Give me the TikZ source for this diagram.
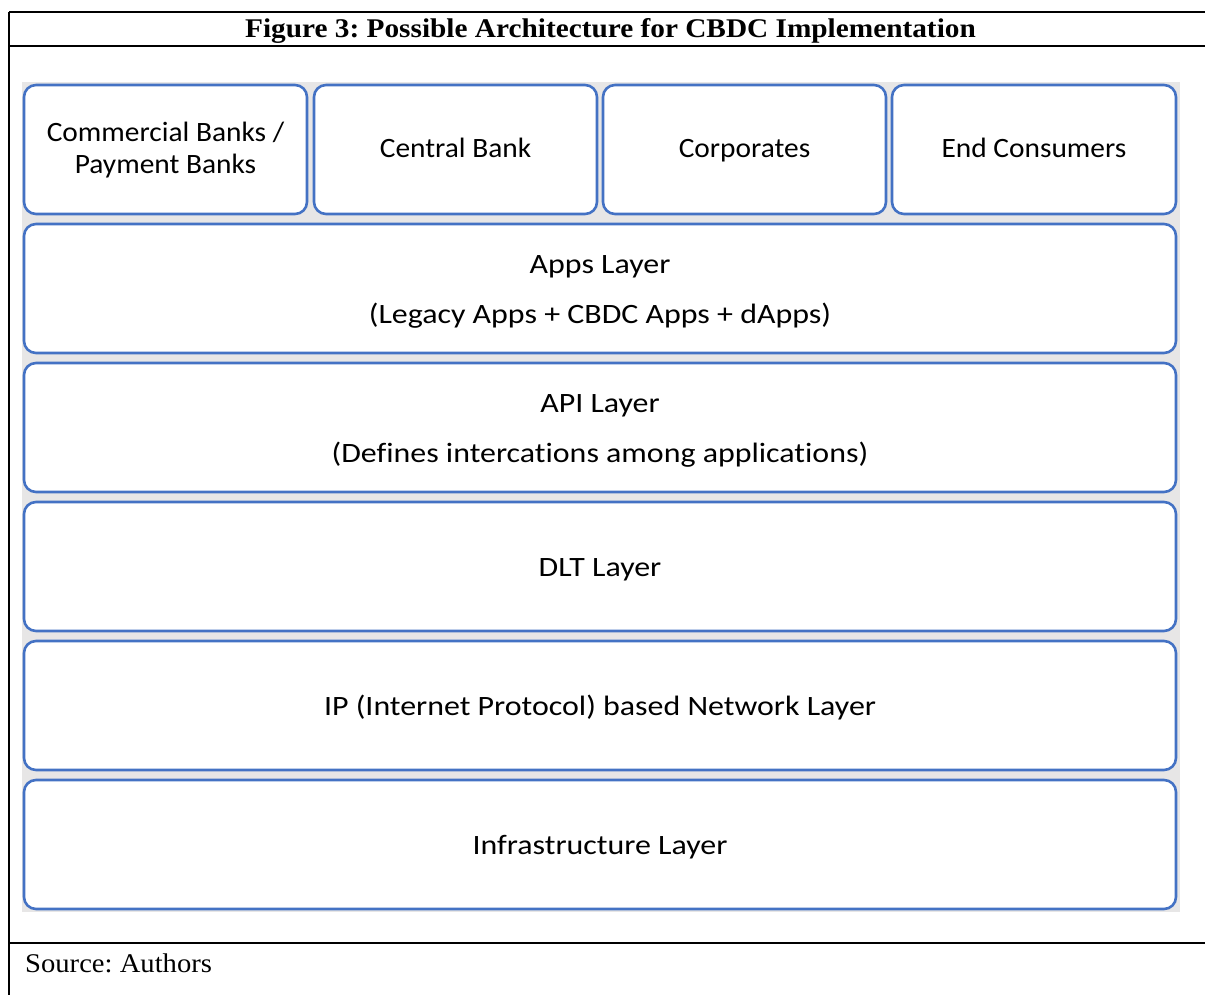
\documentclass[tikz,border=0pt]{standalone}
\usepackage{fontspec}
\setmainfont{Liberation Serif}
\newfontfamily\titlefont[FakeStretch=1.085]{Liberation Serif}
\newfontfamily\srcfont[FakeStretch=1.06]{Liberation Serif}
\newfontfamily\calibtop[FakeStretch=1.05,Ligatures=NoCommon]{Carlito}
\newfontfamily\caliblay[FakeStretch=1.14,Ligatures=NoCommon]{Carlito}
\definecolor{boxblue}{HTML}{4472C4}
\definecolor{bggray}{HTML}{E7E6E6}
\frenchspacing
\begin{document}
\begin{tikzpicture}[x=1pt,y=-1pt,
  layer/.style={draw=boxblue,line width=2.6pt,fill=white,rounded corners=12pt},
  toplbl/.style={font=\calibtop\fontsize{28}{30}\selectfont,inner sep=0pt,anchor=base},
  laylbl/.style={font=\caliblay\fontsize{28}{32}\selectfont,inner sep=0pt,anchor=base},
  frame/.style={line width=2.4pt,black}]
\useasboundingbox (0,0) rectangle (1205,995);
% frame
\draw[frame] (9,12) -- (1205,12);
\draw[frame] (9,46) -- (1205,46);
\draw[frame] (9,943) -- (1205,943);
\draw[frame] (9,12) -- (9,995);
\node[font=\titlefont\bfseries\fontsize{27}{30}\selectfont,inner sep=0pt,anchor=base] (title) at (610.5,38) {Figure 3: Possible Architecture for CBDC Implementation};
\node[font=\srcfont\fontsize{27}{30}\selectfont,anchor=base west,inner sep=0pt] (src) at (25,972) {Source: Authors};
% gray background
\fill[bggray] (22,82) rectangle (1180,912);
% top row
\draw[layer] (24,85) rectangle (307,214);
\draw[layer] (314,85) rectangle (597,214);
\draw[layer] (603,85) rectangle (886,214);
\draw[layer] (892,85) rectangle (1176,214);
\node[toplbl] (cb) at (165.5,142) {Commercial Banks /};
\node[toplbl] (cb2) at (165.5,174) {Payment Banks};
\node[toplbl] (central) at (455.5,158) {Central Bank};
\node[toplbl] (corp) at (744.5,158) {Corporates};
\node[toplbl] (end) at (1034,158) {End Consumers};
% layers
\draw[layer] (24,224) rectangle (1176,353);
\draw[layer] (24,363) rectangle (1176,492);
\draw[layer] (24,502) rectangle (1176,631);
\draw[layer] (24,641) rectangle (1176,770);
\draw[layer] (24,780) rectangle (1176,909);
\node[laylbl] (apps) at (600,273) {Apps Layer};
\node[laylbl] (apps2) at (600,323) {(Legacy Apps + CBDC Apps + dApps)};
\node[laylbl] (api) at (600,412) {API Layer};
\node[laylbl] (api2) at (600,462) {(Defines intercations among applications)};
\node[laylbl] (dlt) at (600,576) {DLT Layer};
\node[laylbl] (ip) at (600,715) {IP (Internet Protocol) based Network Layer};
\node[laylbl] (infra) at (600,854) {Infrastructure Layer};
\end{tikzpicture}
\end{document}
